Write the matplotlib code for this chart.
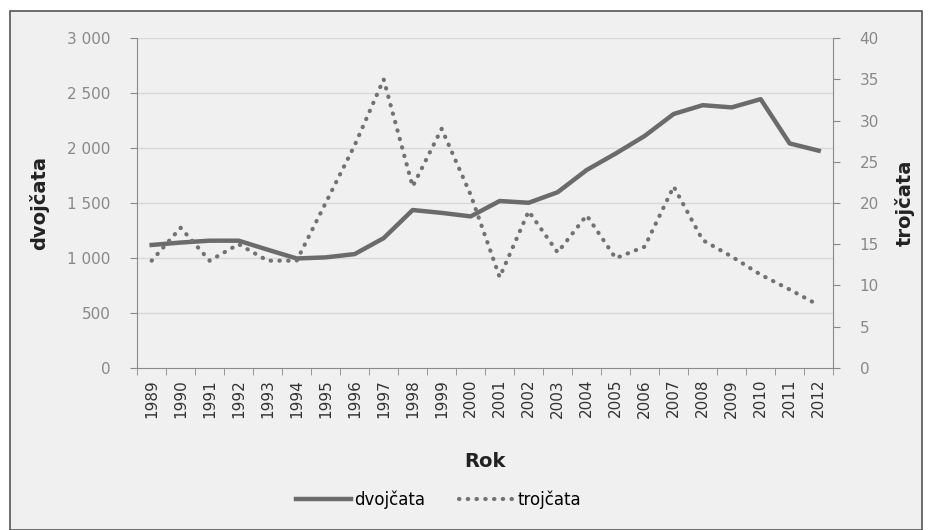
import matplotlib.pyplot as plt
from matplotlib.patches import Rectangle

# Data
years = [str(y) for y in range(1989, 2013)]
dvojcata = [1118, 1140, 1157, 1157, 1075, 995, 1005, 1035, 1180, 1436, 1410, 1378,
            1518, 1502, 1598, 1800, 1950, 2110, 2310, 2390, 2370, 2445, 2042, 1976]
trojcata = [13, 17, 13, 15, 13, 13, 20, 27, 35, 22, 29, 21,
            11, 19, 14, 18.5, 13.3, 14.7, 22, 15.5, 13.5, 11.3, 9.5, 7.6]
y_left_ticks = [0, 500, 1000, 1500, 2000, 2500, 3000]
y_left_labels = ["0", "500", "1 000", "1 500", "2 000", "2 500", "3 000"]
y_right_ticks = [0, 5, 10, 15, 20, 25, 30, 35, 40]

fig = plt.figure(figsize=(9.33, 5.30), dpi=100)
fig.patch.set_facecolor("white")
fig.patches.append(Rectangle((0.011, 0.0), 0.977, 0.979, transform=fig.transFigure,
                             facecolor="#f0f0f0", edgecolor="#555555", linewidth=1.2,
                             zorder=-10))

ax = fig.add_axes([0.147, 0.306, 0.746, 0.622])
ax.set_facecolor("none")
x = list(range(len(years)))

ax.set_ylim(0, 3000)
ax.set_xlim(-0.5, len(years) - 0.5)
ax.set_yticks(y_left_ticks)
ax.set_yticklabels(y_left_labels)
for t in y_left_ticks[1:]:
    ax.axhline(t, color="#d8d8d8", linewidth=1, zorder=0)

l1, = ax.plot(x, dvojcata, color="#6b6b6b", linewidth=3.2, solid_joinstyle="round",
              label="dvojčata", zorder=3)

ax2 = ax.twinx()
ax2.set_ylim(0, 40)
ax2.set_yticks(y_right_ticks)
l2, = ax2.plot(x, trojcata, color="#727272", linewidth=3, linestyle=(0, (0.1, 2.0)),
               dash_capstyle="round", label="trojčata", zorder=3)

# x ticks between categories
ax.set_xticks(x)
ax.set_xticklabels(years, rotation=90, fontsize=11, color="#333333")
ax.tick_params(axis="x", length=0, pad=8)
ax.set_xticks([i - 0.5 for i in range(len(years) + 1)], minor=True)
ax.tick_params(axis="x", which="minor", length=5, color="#888888")

ax.tick_params(axis="y", labelsize=11, labelcolor="#888888", color="#888888",
               length=5, pad=14)
ax2.tick_params(axis="y", labelsize=11, labelcolor="#888888", color="#888888",
                length=5, pad=14)

for a in (ax, ax2):
    a.spines["top"].set_visible(False)
    for s in ("left", "right", "bottom"):
        a.spines[s].set_color("#8a8a8a")
ax.spines["right"].set_visible(False)
ax2.spines["left"].set_visible(False)
ax2.spines["bottom"].set_visible(False)

ax.set_ylabel("dvojčata", fontsize=14, fontweight="bold", color="#222222")
ax2.set_ylabel("trojčata", fontsize=14, fontweight="bold", color="#222222")
ax.set_xlabel("Rok", fontsize=14, fontweight="bold", color="#222222")
ax.yaxis.set_label_coords(-0.127, 0.5)
ax2.yaxis.set_label_coords(1.088, 0.5)
ax.xaxis.set_label_coords(0.5, -0.255)

fig.legend(handles=[l1, l2], loc="center", bbox_to_anchor=(0.47, 0.057), ncol=2,
           frameon=False, fontsize=12, handlelength=3.3, columnspacing=2.0,
           handletextpad=0.2)

fig.savefig("out.png", dpi=100)
